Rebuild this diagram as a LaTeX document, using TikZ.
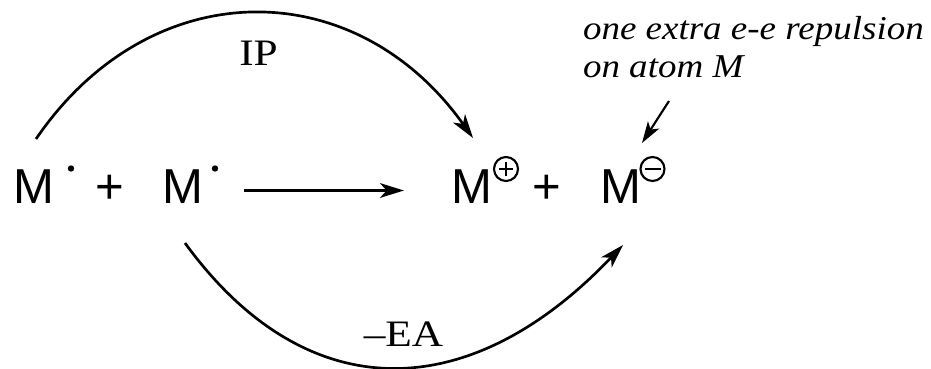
\documentclass[tikz,border=0pt]{standalone}
\usepackage{fontspec}
\setmainfont{Liberation Serif}
\newfontfamily\sansf{Liberation Sans}
\newfontfamily\lblfont[FakeStretch=1.16]{Liberation Serif}
\newfontfamily\notefont[FakeStretch=1.11]{Liberation Serif}
\usetikzlibrary{arrows.meta}
\tikzset{
  big/.style={inner sep=0pt, outer sep=0pt, font=\sansf\fontsize{36.8}{40}\selectfont},
  lbl/.style={inner sep=0pt, outer sep=0pt, font=\lblfont\fontsize{28}{30}\selectfont},
  note/.style={inner sep=0pt, outer sep=0pt, anchor=base west, font=\notefont\itshape\fontsize{25}{28}\selectfont},
  conn/.style={line width=2pt, -{Stealth[length=18pt,width=11pt,inset=5pt]}},
  charge/.style={line width=1.6pt},
}
\begin{document}
\begin{tikzpicture}[x=0.75pt,y=-0.75pt]
\useasboundingbox (0,0) rectangle (931,368);
% species
\node[big, anchor=base west] (m1) at (13.8,203) {M};
\node[big, anchor=base] (p1) at (109.5,203) {+};
\node[big, anchor=base west] (m2) at (162.6,203) {M};
\node[big, anchor=base west] (m3) at (451.6,203) {M};
\node[big, anchor=base] (p2) at (546.5,203) {+};
\node[big, anchor=base west] (m4) at (600.6,203) {M};
% radical dots
\fill (71,168.5) circle (3.2);
\fill (215,168.5) circle (3.2);
% charges
\draw[charge] (506,169) circle (12);
\draw[charge] (499,169) -- (513,169) (506,162) -- (506,176);
\draw[charge] (652.5,169) circle (12);
\draw[charge] (644.5,169) -- (660.5,169);
% coordinates
\coordinate (a1) at (244,190.5);
\coordinate (a2) at (404,190.5);
\coordinate (t1) at (36,139);
\coordinate (t2) at (473,138);
\coordinate (b1) at (185,243);
\coordinate (b2) at (623,245);
\coordinate (n1) at (669,101);
\coordinate (n2) at (642,143);
% connectors
\draw[conn] (a1) -- (a2);
\draw[conn] (t1) .. controls (150,-28) and (355,-28) .. (t2);
\draw[conn] (b1) .. controls (305,408) and (468,408) .. (b2);
\draw[line width=1.6pt, -{Stealth[length=16pt,width=10pt,inset=4pt]}] (n1) -- (n2);
% labels
\node[lbl, anchor=base] (ip) at (258.5,65) {IP};
\node[lbl, anchor=base] (ea) at (403.5,346) {–EA};
\node[note] (nt1) at (583,39) {one extra e-e repulsion};
\node[note] (nt2) at (583,77) {on atom M};
\end{tikzpicture}
\end{document}
